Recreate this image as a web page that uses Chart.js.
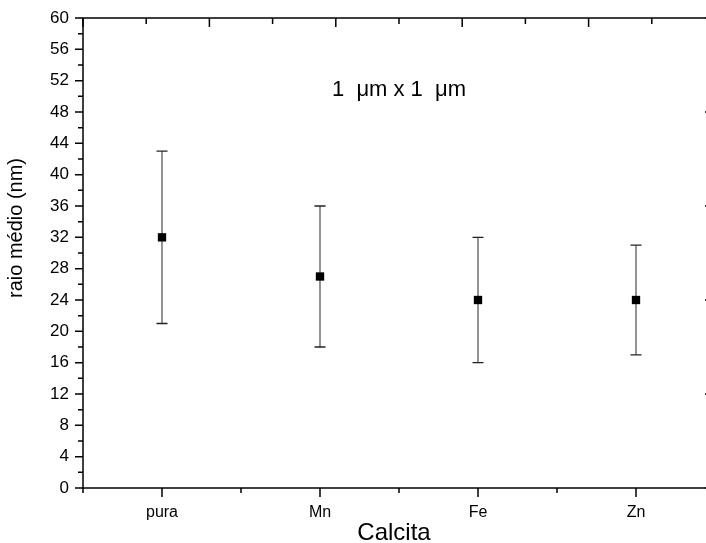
<!DOCTYPE html>
<html>
<head>
<meta charset="utf-8">
<title>Raio médio - Calcita</title>
<script src="https://cdn.jsdelivr.net/npm/chart.js@4.4.1/dist/chart.umd.min.js"></script>
<style>
  html, body { margin: 0; padding: 0; background: #fff; overflow: hidden; }
</style>
</head>
<body>
<canvas id="raioChart" width="706" height="543"></canvas>
<script>
// ============================================
// Data
// ============================================
const categories = ['pura', 'Mn', 'Fe', 'Zn'];
const raioMedio = [32, 27, 24, 24];
const erroInferior = [21, 18, 16, 17];
const erroSuperior = [43, 36, 32, 31];
const yTickLabels = [0, 4, 8, 12, 16, 20, 24, 28, 32, 36, 40, 44, 48, 52, 56, 60];

const FONT = '"Liberation Sans", Arial, sans-serif';

// ============================================
// Plugins
// ============================================

// the original figure is cropped just left of its right axis:
// push the plot's right edge past the canvas after layout
const cropRight = {
    id: 'cropRight',
    afterLayout(chart, args, opts) {
        const extra = opts.extra || 0;
        const a = chart.chartArea;
        a.right += extra;
        a.width += extra;
        ['x', 'xTop'].forEach(id => {
            const s = chart.scales[id];
            s.right += extra;
            s.width += extra;
            s.configure();
        });
        const r = chart.scales.yRight;
        r.left += extra;
        r.right += extra;
        r.configure();
    }
};

// vertical error bars with caps, drawn under the squares
const errorBars = {
    id: 'errorBars',
    beforeDatasetsDraw(chart) {
        const ctx = chart.ctx;
        const yScale = chart.scales.y;
        const meta = chart.getDatasetMeta(0);
        ctx.save();
        ctx.lineWidth = 1.3;
        meta.data.forEach((pt, i) => {
            const yHi = yScale.getPixelForValue(erroSuperior[i]);
            const yLo = yScale.getPixelForValue(erroInferior[i]);
            ctx.strokeStyle = '#5a5a5a';
            ctx.beginPath();
            ctx.moveTo(pt.x, yHi);
            ctx.lineTo(pt.x, yLo);
            ctx.stroke();
            ctx.strokeStyle = '#222';
            ctx.beginPath();
            ctx.moveTo(pt.x - 5.5, yHi);
            ctx.lineTo(pt.x + 5.5, yHi);
            ctx.moveTo(pt.x - 5.5, yLo);
            ctx.lineTo(pt.x + 5.5, yLo);
            ctx.stroke();
        });
        ctx.restore();
    }
};

// box frame plus origin style tick marks on all four sides
const frameTicks = {
    id: 'frameTicks',
    afterDraw(chart) {
        const ctx = chart.ctx;
        const a = chart.chartArea;
        const isMajor = (v, step) => Math.abs(v / step - Math.round(v / step)) < 1e-6;
        const specs = [
            { id: 'x', step: 1, edge: a.bottom, dir: 1, horiz: true, major: 9, minor: 5 },
            { id: 'xTop', step: 1, edge: a.top, dir: 1, horiz: true, major: 9, minor: 6 },
            { id: 'y', step: 4, edge: a.left, dir: -1, horiz: false, major: 8, minor: 5 },
            { id: 'yRight', step: 12, edge: a.right, dir: -1, horiz: false, major: 10, minor: 5 }
        ];

        ctx.save();
        ctx.strokeStyle = '#000';
        ctx.lineWidth = 1.5;
        ctx.strokeRect(a.left, a.top, a.right - a.left, a.bottom - a.top);

        ctx.beginPath();
        specs.forEach(s => {
            const scale = chart.scales[s.id];
            scale.ticks.forEach(t => {
                const p = scale.getPixelForValue(t.value);
                const len = isMajor(t.value, s.step) ? s.major : s.minor;
                if (s.horiz) {
                    ctx.moveTo(p, s.edge);
                    ctx.lineTo(p, s.edge + s.dir * len);
                } else {
                    ctx.moveTo(s.edge, p);
                    ctx.lineTo(s.edge + s.dir * len, p);
                }
            });
        });
        ctx.stroke();
        ctx.restore();
    }
};

// axis titles and the scan size note
const textLabels = {
    id: 'textLabels',
    afterDraw(chart) {
        const ctx = chart.ctx;
        const xs = chart.scales.x;
        const ys = chart.scales.y;
        ctx.save();
        ctx.fillStyle = '#000';

        ctx.font = '22px ' + FONT;
        ctx.textAlign = 'center';
        ctx.textBaseline = 'alphabetic';
        ctx.fillText('1  μm x 1  μm', xs.getPixelForValue(1.5), ys.getPixelForValue(50));

        ctx.font = '24px ' + FONT;
        ctx.fillText('Calcita', 394, 540);

        ctx.translate(22, 228);
        ctx.rotate(-Math.PI / 2);
        ctx.font = '20px ' + FONT;
        ctx.fillText('raio médio (nm)', 0, 0);
        ctx.restore();
    }
};

// fixed box sizes, no label overflow padding
const fixSize = (key, val) => s => {
    s[key] = val;
    s.paddingTop = s.paddingBottom = s.paddingLeft = s.paddingRight = 0;
};

// ============================================
// Chart
// ============================================
const noGrid = { display: false, drawTicks: false };
const noBorder = { display: false };

new Chart(document.getElementById('raioChart'), {
    type: 'scatter',
    data: {
        datasets: [{
            data: categories.map((c, i) => ({ x: i, y: raioMedio[i] })),
            pointStyle: 'rect',
            pointRadius: 5.9,
            pointBackgroundColor: '#000',
            pointBorderColor: '#000',
            pointBorderWidth: 0,
            showLine: false
        }]
    },
    options: {
        responsive: false,
        animation: false,
        devicePixelRatio: 1,
        layout: { autoPadding: false, padding: 0 },
        plugins: {
            legend: { display: false },
            tooltip: { enabled: false },
            cropRight: { extra: 9 }
        },
        scales: {
            x: {
                type: 'linear',
                position: 'bottom',
                min: -0.5,
                max: 3.5,
                grid: noGrid,
                border: noBorder,
                ticks: {
                    stepSize: 0.5,
                    autoSkip: false,
                    maxRotation: 0,
                    padding: 15,
                    color: '#000',
                    font: { family: FONT, size: 16 },
                    callback: v => Number.isInteger(v) ? categories[v] : ''
                },
                afterFit: fixSize('height', 55)
            },
            xTop: {
                type: 'linear',
                position: 'top',
                min: 0,
                max: 5,
                grid: noGrid,
                border: noBorder,
                ticks: { stepSize: 0.5, autoSkip: false, display: false },
                afterFit: fixSize('height', 18)
            },
            y: {
                type: 'linear',
                position: 'left',
                min: 0,
                max: 60,
                grid: noGrid,
                border: noBorder,
                ticks: {
                    stepSize: 2,
                    autoSkip: false,
                    padding: 14,
                    color: '#000',
                    font: { family: FONT, size: 17 },
                    callback: v => yTickLabels.includes(v) ? String(v) : ''
                },
                afterFit: fixSize('width', 83)
            },
            yRight: {
                type: 'linear',
                position: 'right',
                min: 0,
                max: 60,
                grid: noGrid,
                border: noBorder,
                ticks: { stepSize: 6, autoSkip: false, display: false },
                afterFit: fixSize('width', 0)
            }
        }
    },
    plugins: [cropRight, errorBars, frameTicks, textLabels]
});
</script>
</body>
</html>
